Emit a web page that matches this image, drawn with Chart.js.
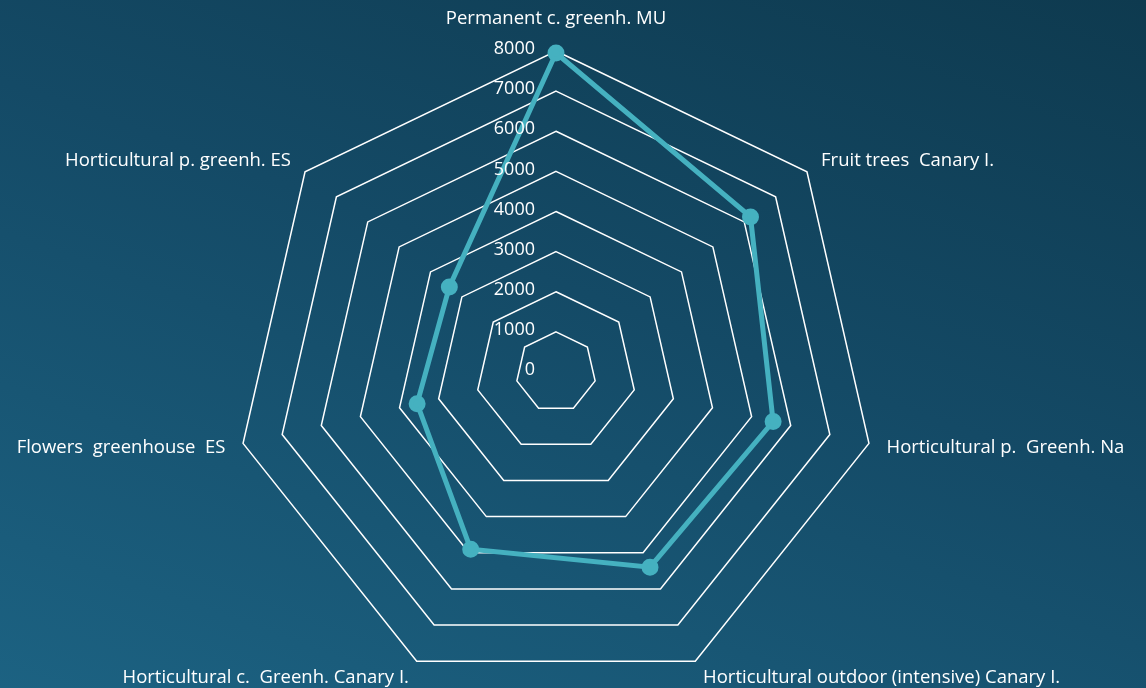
<!DOCTYPE html>
<html>
<head>
<meta charset="utf-8">
<script src="https://cdn.jsdelivr.net/npm/chart.js@4/dist/chart.umd.min.js"></script>
<style>
  html, body { margin: 0; padding: 0; }
  body {
    width: 1146px; height: 688px; overflow: hidden; position: relative;
    background: linear-gradient(200deg, #0e3a4f 0%, #144a66 45%, #1c6282 100%);
  }
  #wrap { position: absolute; left: 0; top: 0; width: 1146px; height: 700px; }
</style>
</head>
<body>
<div id="wrap"><canvas id="chart"></canvas></div>
<script>
const categories = [
  "Permanent c. greenh. MU",
  "Fruit trees  Canary I.",
  "Horticultural p.  Greenh. Na",
  "Horticultural outdoor (intensive) Canary I.",
  "Horticultural c.  Greenh. Canary I.",
  "Flowers  greenhouse  ES",
  "Horticultural p. greenh. ES"
];
const values = [7950, 6200, 5550, 5400, 4900, 3550, 3400];
const tickValues = [0, 1000, 2000, 3000, 4000, 5000, 6000, 7000, 8000];

const FONT = "'Open Sans', 'Noto Sans', sans-serif";

// tick labels left of the vertical axis, category labels just outside the outer ring
const radarText = {
  id: "radarText",
  afterDraw(chart) {
    const scale = chart.scales.r;
    const ctx = chart.ctx;
    const outer = scale.drawingArea;
    ctx.save();
    ctx.fillStyle = "#ffffff";
    ctx.textBaseline = "middle";

    ctx.font = "18px " + FONT;
    ctx.textAlign = "right";
    tickValues.forEach((v) => {
      const d = scale.getDistanceFromCenterForValue(v);
      ctx.fillText(String(v), scale.xCenter - 21, scale.yCenter - d - 2);
    });

    ctx.font = "18.5px " + FONT;
    categories.forEach((label, i) => {
      const top = i === 0;
      const p = scale.getPointPosition(i, outer + (top ? 32 : 18));
      if (top) ctx.textAlign = "center";
      else ctx.textAlign = p.x > scale.xCenter ? "left" : "right";
      ctx.fillText(label, p.x, p.y);
    });
    ctx.restore();
  }
};

new Chart(document.getElementById("chart"), {
  type: "radar",
  data: {
    labels: categories,
    datasets: [{
      data: values,
      borderColor: "#45b1c0",
      backgroundColor: "#45b1c0",
      pointBackgroundColor: "#45b1c0",
      borderWidth: 5,
      pointRadius: 6,
      fill: false
    }]
  },
  options: {
    responsive: true,
    maintainAspectRatio: false,
    animation: false,
    layout: { padding: { top: 51, bottom: 7, left: 0, right: 34 } },
    plugins: { legend: { display: false }, tooltip: { enabled: false } },
    scales: {
      r: {
        min: 0,
        max: 8000,
        ticks: { stepSize: 1000, display: false },
        grid: { color: "#ffffff", lineWidth: 1.5, circular: false },
        angleLines: { display: false },
        pointLabels: { display: false }
      }
    }
  },
  plugins: [radarText]
});
</script>
</body>
</html>
